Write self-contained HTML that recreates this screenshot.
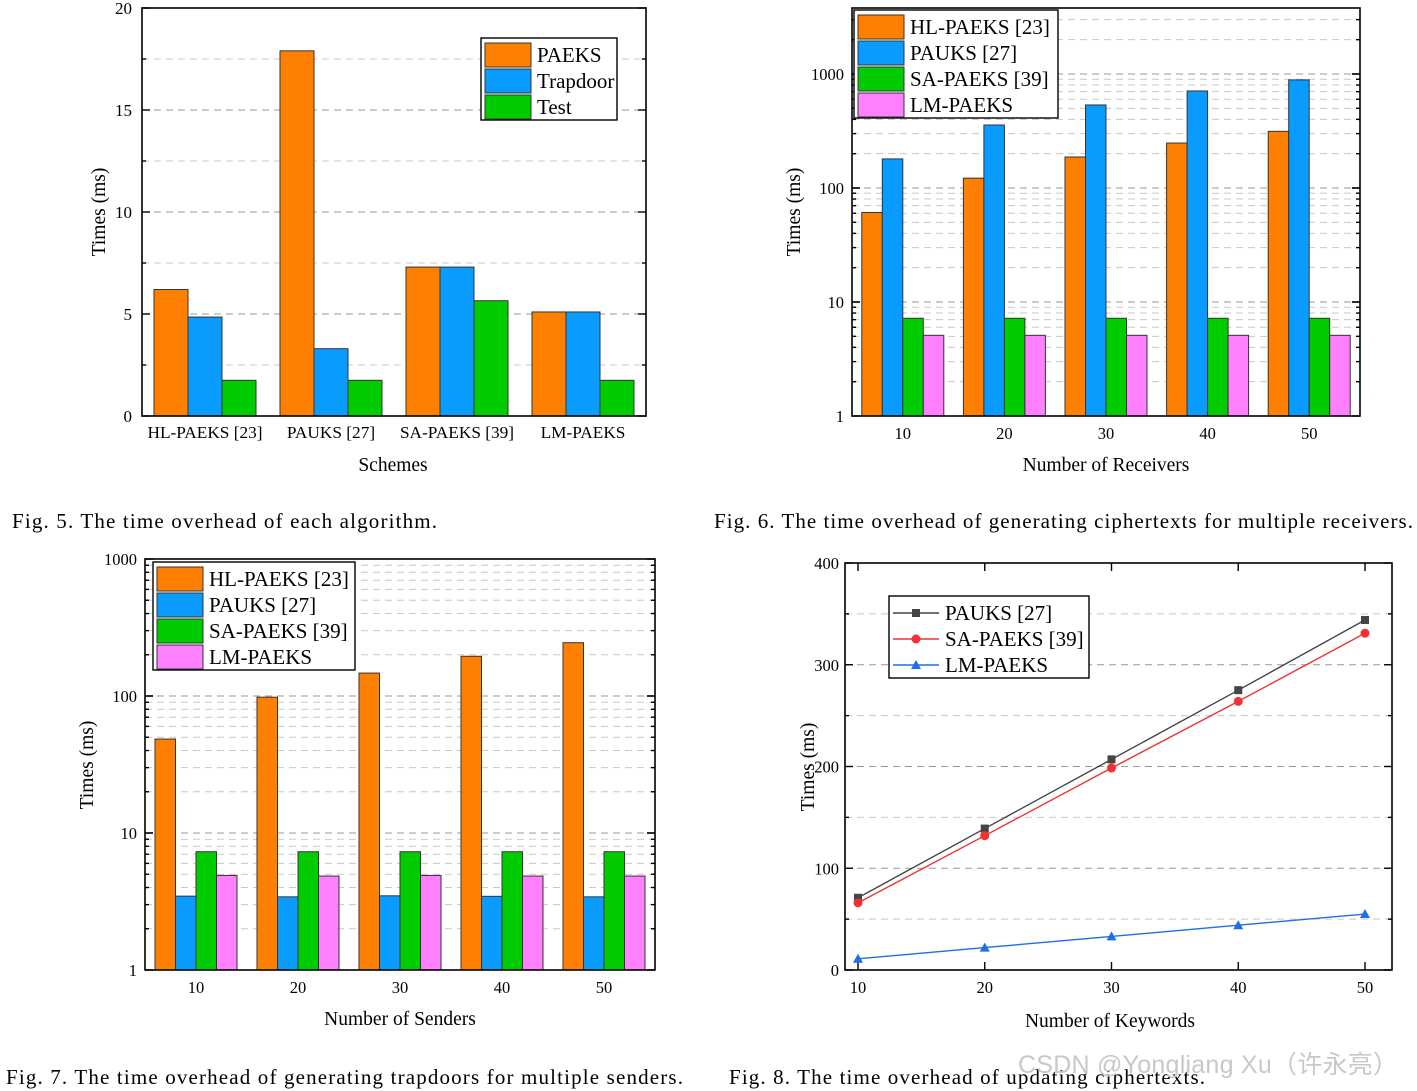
<!DOCTYPE html>
<html><head><meta charset="utf-8"><style>
html,body{margin:0;padding:0;background:#fff;}
svg{display:block;font-family:"Liberation Serif",serif;}
</style></head><body>
<svg id="s" width="1417" height="1091" viewBox="0 0 1417 1091">
<text x="12" y="528" font-size="21" textLength="425" lengthAdjust="spacing">Fig. 5.  The time overhead of each algorithm.</text>
<text x="714" y="528" font-size="21" textLength="699" lengthAdjust="spacing">Fig. 6.  The time overhead of generating ciphertexts for multiple receivers.</text>
<text x="6" y="1084" font-size="21" textLength="677" lengthAdjust="spacing">Fig. 7.  The time overhead of generating trapdoors for multiple senders.</text>
<text x="729" y="1084" font-size="21" textLength="476" lengthAdjust="spacing">Fig. 8.  The time overhead of updating ciphertexts.</text>
<text x="1018" y="1073" font-size="25" textLength="380" fill="#c8c8c8" font-family="Liberation Sans, Noto Sans CJK SC, sans-serif">CSDN @Yongliang Xu（许永亮）</text>
</svg>
<script>
// Fig 5 data
const f5Cats=["HL-PAEKS [23]","PAUKS [27]","SA-PAEKS [39]","LM-PAEKS"];
const f5Series=["PAEKS","Trapdoor","Test"];
const f5PAEKS=[6.2,17.9,7.3,5.1];
const f5Trapdoor=[4.85,3.3,7.3,5.1];
const f5Test=[1.75,1.75,5.65,1.75];
const f5Ticks=[0,5,10,15,20];
// Fig 6 data
const f6Cats=["10","20","30","40","50"];
const f6Series=["HL-PAEKS [23]","PAUKS [27]","SA-PAEKS [39]","LM-PAEKS"];
const f6HL=[61,122,187,248,314];
const f6PAUKS=[180,357,535,710,888];
const f6SA=[7.2,7.2,7.2,7.2,7.2];
const f6LM=[5.1,5.1,5.1,5.1,5.1];
const f6Ticks=[1,10,100,1000];
// Fig 7 data
const f7Cats=["10","20","30","40","50"];
const f7HL=[48.5,98,147,195,245];
const f7PAUKS=[3.46,3.42,3.48,3.45,3.42];
const f7SA=[7.3,7.3,7.3,7.3,7.3];
const f7LM=[4.9,4.85,4.9,4.85,4.85];
const f7Ticks=[1,10,100,1000];
// Fig 8 data
const f8X=[10,20,30,40,50];
const f8Series=["PAUKS [27]","SA-PAEKS [39]","LM-PAEKS"];
const f8PAUKS=[71,139,207,275,344];
const f8SA=[66,132,198.5,264,331];
const f8LM=[11,22,33,44,55];
const f8Ticks=[0,100,200,300,400];

const S=document.getElementById('s');const NS='http://www.w3.org/2000/svg';
function mk(tag,attrs,parent){const e=document.createElementNS(NS,tag);for(const k in attrs)e.setAttribute(k,attrs[k]);(parent||S).appendChild(e);return e;}
function txt(x,y,str,size,anchor,parent){const t=mk('text',{x:x,y:y,'font-size':size,'text-anchor':anchor||'start'},parent);t.textContent=str;return t;}
const COL=["#FF8000","#0A9BFF","#00CC00","#FF80FF"];

function frame(g,L,T,R,B){const r=mk('rect',{x:L,y:T,width:R-L,height:B-T,fill:'none',stroke:'#000','stroke-width':1.6},g);
}
function grid(g,L,R,y,major){const l=mk('line',{x1:L,x2:R,y1:y,y2:y,stroke:major?'#999':'#c8c8c8','stroke-width':1,'stroke-dasharray':'7,5'},g);
}
function ytick(g,L,R,y,len){mk('line',{x1:L,x2:L+len,y1:y,y2:y,stroke:'#000','stroke-width':1.4},g);mk('line',{x1:R,x2:R-len,y1:y,y2:y,stroke:'#000','stroke-width':1.4},g);}
function bar(g,x,w,y0,y1,c,name){const b=mk('rect',{x:x,y:Math.min(y0,y1),width:w,height:Math.abs(y0-y1),fill:c,stroke:'#333','stroke-width':1},g);
}
function legend(g,x,y,w,h,items,rowH,fs,type){
 const box=mk('rect',{x:x,y:y,width:w,height:h,fill:'#fff',stroke:'#000','stroke-width':1.4},g);
 
 items.forEach((it,i)=>{const cy=y+4+rowH*i+rowH/2;
  const e=mk('g',{},g);
  if(type==='bar'){mk('rect',{x:x+4,y:cy-rowH/2+1,width:46,height:rowH-2,fill:it.c,stroke:'#333','stroke-width':1},e);txt(x+56,cy+7,it.n,fs,'start',e);}
  else{mk('line',{x1:x+4,x2:x+50,y1:cy,y2:cy,stroke:it.c,'stroke-width':1.4},e);marker(e,x+27,cy,it.m,it.c);txt(x+56,cy+7,it.n,fs,'start',e);}
 });}
function marker(g,x,y,m,c){
 if(m==='s')mk('rect',{x:x-4,y:y-4,width:8,height:8,fill:c},g);
 else if(m==='c')mk('circle',{cx:x,cy:y,r:4.5,fill:c},g);
 else mk('polygon',{points:`${x},${y-5} ${x-5},${y+4} ${x+5},${y+4}`,fill:c},g);}

// ---------- Fig 5 ----------
(function(){const g=mk('g',{});
 const L=142,T=8,R=646,B=416;const yS=v=>B-(v/20)*(B-T);
 for(let v=2.5;v<20;v+=2.5)grid(g,L,R,yS(v),v%5===0);
 f5Ticks.forEach(v=>{ytick(g,L,R,yS(v),8);const t=txt(L-10,yS(v)+6,String(v),17,'end',g);});
 for(let v=2.5;v<20;v+=5)ytick(g,L,R,yS(v),4);
 const gw=(R-L)/f5Cats.length,bw=34;const vals=[f5PAEKS,f5Trapdoor,f5Test];
 f5Cats.forEach((c,i)=>{const cx=L+gw*(i+0.5);
  vals.forEach((arr,j)=>bar(g,cx-51+bw*j,bw,B,yS(arr[i]),COL[j],'bar-'+f5Series[j].toLowerCase()+'-'+i));
  const t=txt(cx,438,c,17.3,'middle',g);});
 frame(g,L,T,R,B);
 const xt=txt(393,471,'Schemes',19.5,'middle',g);
 const yt=txt(0,0,'Times (ms)',19.5,'middle',g);yt.setAttribute('transform','translate(105,212) rotate(-90)');
 legend(g,481,38,136,82,f5Series.map((n,i)=>({n:n,c:COL[i]})),26,21,'bar');
})();

// log bar chart helper
function logBars(name,L,T,R,B,decPx,cats,arrs,ticks,xTitle,yTx,yTy,lg){
 const g=mk('g',{});
 const yS=v=>B-Math.log10(v)*decPx;
 for(let d=1;d<=1000;d*=10)for(let k=1;k<10;k++){const v=d*k;const y=yS(v);if(y<T+1||y>B-1)continue;grid(g,L,R,y,k===1);ytick(g,L,R,y,k===1?8:4);}
 ticks.forEach(v=>{ytick(g,L,R,yS(v),8);const t=txt(L-8,yS(v)+6,String(v),16.5,'end',g);});
 const gw=(R-L)/cats.length,bw=20.5;
 cats.forEach((c,i)=>{const cx=L+gw*(i+0.5);
  arrs.forEach((arr,j)=>bar(g,cx-2*bw+bw*j,bw,B,yS(arr[i]),COL[j],'bar-'+f6Series[j].split(' ')[0].toLowerCase()+'-'+c));
  const t=txt(cx,B+23,c,16.5,'middle',g);});
 frame(g,L,T,R,B);
 const xt=txt((L+R)/2,B+55,xTitle,19.5,'middle',g);
 const yt=txt(0,0,'Times (ms)',19.5,'middle',g);yt.setAttribute('transform',`translate(${yTx},${yTy}) rotate(-90)`);
 legend(g,lg[0],lg[1],lg[2],lg[3],f6Series.map((n,i)=>({n:n,c:COL[i]})),26,21,'bar');
}
logBars('fig6-chart',852,8,1360,416,114,f6Cats,[f6HL,f6PAUKS,f6SA,f6LM],f6Ticks,'Number of Receivers',800,212,[854,10,204,108]);
logBars('fig7-chart',145,559,655,970,137,f7Cats,[f7HL,f7PAUKS,f7SA,f7LM],f7Ticks,'Number of Senders',93,765,[153,562,202,108]);

// ---------- Fig 8 ----------
(function(){const g=mk('g',{});
 const L=845,T=563,R=1392,B=970;const yS=v=>B-(v/400)*(B-T);const xS=v=>858+(v-10)/40*(1365-858);
 for(let v=50;v<400;v+=50)grid(g,L,R,yS(v),v%100===0);
 f8Ticks.forEach(v=>{ytick(g,L,R,yS(v),8);const t=txt(L-6,yS(v)+6,String(v),16.5,'end',g);});
 for(let v=50;v<400;v+=100)ytick(g,L,R,yS(v),4);
 f8X.forEach(v=>{mk('line',{x1:xS(v),x2:xS(v),y1:B,y2:B-8,stroke:'#000','stroke-width':1.4},g);mk('line',{x1:xS(v),x2:xS(v),y1:T,y2:T+8,stroke:'#000','stroke-width':1.4},g);
  const t=txt(xS(v),B+23,String(v),16.5,'middle',g);});
 const sets=[[f8PAUKS,'#444','s'],[f8SA,'#F03232','c'],[f8LM,'#1E6EE6','t']];
 sets.forEach(([arr,c,m],j)=>{const pl=mk('polyline',{points:arr.map((v,i)=>xS(f8X[i])+','+yS(v)).join(' '),fill:'none',stroke:c,'stroke-width':1.4},g);
  
  arr.forEach((v,i)=>marker(g,xS(f8X[i]),yS(v),m,c));});
 frame(g,L,T,R,B);
 const xt=txt(1110,1027,'Number of Keywords',19.5,'middle',g);
 const yt=txt(0,0,'Times (ms)',19.5,'middle',g);yt.setAttribute('transform','translate(814,767) rotate(-90)');
 legend(g,889,596,200,82,sets.map((s,i)=>({n:f8Series[i],c:s[1],m:s[2]})),26,21,'line');
})();
</script>
</body></html>
